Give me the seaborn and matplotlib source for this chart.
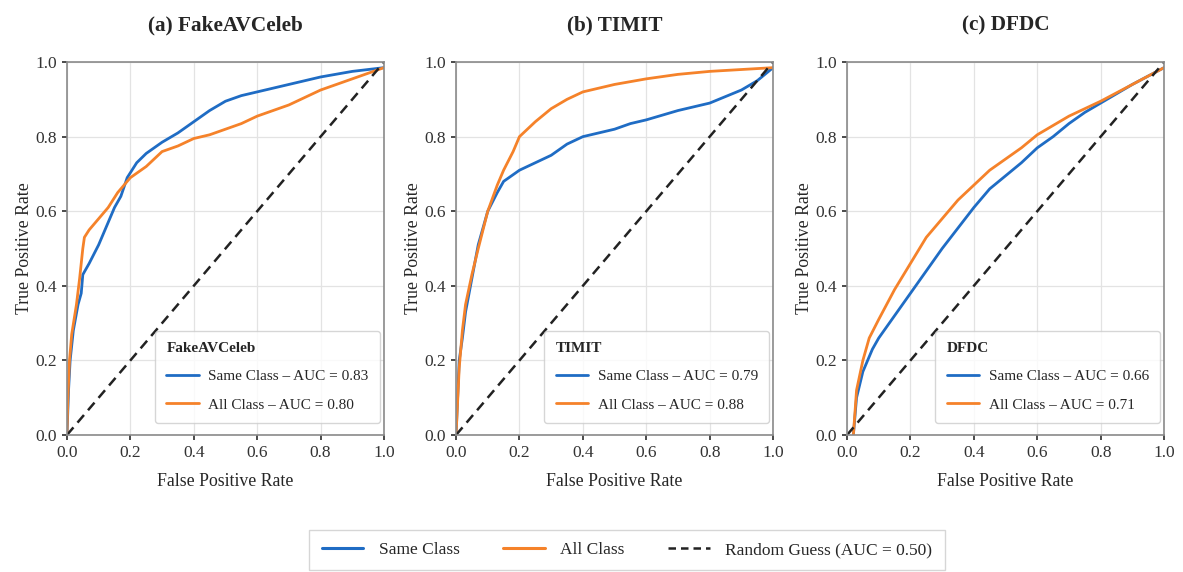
import numpy as np
import pandas as pd
import matplotlib.pyplot as plt
import seaborn as sns
from matplotlib.lines import Line2D

# ROC points (FPR, TPR)
datasets = ["FakeAVCeleb", "TIMIT", "DFDC"]
panel_titles = ["(a) FakeAVCeleb", "(b) TIMIT", "(c) DFDC"]
auc_same = [0.83, 0.79, 0.66]
auc_all = [0.80, 0.88, 0.71]

fav_same_fpr = [0, 0.005, 0.01, 0.02, 0.035, 0.045, 0.05, 0.07, 0.1, 0.13, 0.15, 0.17, 0.19,
                0.22, 0.25, 0.3, 0.35, 0.4, 0.45, 0.5, 0.55, 0.6, 0.7, 0.8, 0.9, 1.0]
fav_same_tpr = [0, 0.12, 0.2, 0.28, 0.35, 0.38, 0.43, 0.46, 0.51, 0.57, 0.61, 0.64, 0.69,
                0.73, 0.755, 0.785, 0.81, 0.84, 0.87, 0.895, 0.91, 0.92, 0.94, 0.96, 0.975, 0.985]
fav_all_fpr = [0, 0.003, 0.008, 0.015, 0.03, 0.04, 0.05, 0.055, 0.07, 0.1, 0.13, 0.16, 0.2,
               0.25, 0.3, 0.35, 0.4, 0.45, 0.5, 0.55, 0.6, 0.7, 0.8, 0.9, 1.0]
fav_all_tpr = [0, 0.1, 0.2, 0.27, 0.35, 0.42, 0.5, 0.53, 0.55, 0.58, 0.61, 0.65, 0.69,
               0.72, 0.76, 0.775, 0.795, 0.805, 0.82, 0.835, 0.855, 0.885, 0.925, 0.955, 0.985]

timit_same_fpr = [0, 0.01, 0.02, 0.03, 0.05, 0.07, 0.1, 0.13, 0.15, 0.2, 0.25, 0.3, 0.35, 0.4,
                  0.45, 0.5, 0.55, 0.6, 0.7, 0.8, 0.9, 0.95, 1.0]
timit_same_tpr = [0, 0.2, 0.26, 0.33, 0.42, 0.51, 0.6, 0.65, 0.68, 0.71, 0.73, 0.75, 0.78, 0.80,
                  0.81, 0.82, 0.835, 0.845, 0.87, 0.89, 0.925, 0.95, 0.985]
timit_all_fpr = [0, 0.01, 0.02, 0.03, 0.05, 0.07, 0.1, 0.13, 0.15, 0.18, 0.2, 0.25, 0.3, 0.35,
                 0.4, 0.45, 0.5, 0.6, 0.7, 0.8, 0.9, 1.0]
timit_all_tpr = [0, 0.18, 0.28, 0.35, 0.43, 0.5, 0.6, 0.67, 0.71, 0.76, 0.80, 0.84, 0.875, 0.9,
                 0.92, 0.93, 0.94, 0.955, 0.967, 0.975, 0.98, 0.985]

dfdc_same_fpr = [0.02, 0.03, 0.05, 0.08, 0.1, 0.15, 0.2, 0.25, 0.3, 0.35, 0.4, 0.45, 0.5, 0.55,
                 0.6, 0.65, 0.7, 0.75, 0.8, 0.9, 1.0]
dfdc_same_tpr = [0.0, 0.1, 0.17, 0.23, 0.26, 0.32, 0.38, 0.44, 0.5, 0.555, 0.61, 0.66, 0.695, 0.73,
                 0.77, 0.8, 0.835, 0.865, 0.89, 0.94, 0.985]
dfdc_all_fpr = [0.02, 0.03, 0.05, 0.07, 0.1, 0.15, 0.2, 0.25, 0.3, 0.35, 0.4, 0.45, 0.5, 0.55,
                0.6, 0.65, 0.7, 0.8, 0.9, 1.0]
dfdc_all_tpr = [0.0, 0.12, 0.2, 0.26, 0.31, 0.39, 0.46, 0.53, 0.58, 0.63, 0.67, 0.71, 0.74, 0.77,
                0.805, 0.83, 0.855, 0.895, 0.94, 0.985]

same_curves = [(fav_same_fpr, fav_same_tpr), (timit_same_fpr, timit_same_tpr), (dfdc_same_fpr, dfdc_same_tpr)]
all_curves = [(fav_all_fpr, fav_all_tpr), (timit_all_fpr, timit_all_tpr), (dfdc_all_fpr, dfdc_all_tpr)]
diag = [0, 1]

blue = "#1f6cc4"
orange = "#f5822a"

sns.set_theme(style="whitegrid")
plt.rcParams["font.family"] = ["Liberation Serif", "DejaVu Serif"]
plt.rcParams.update({
    "xtick.bottom": True, "ytick.left": True,
    "xtick.major.size": 3.5, "ytick.major.size": 3.5,
    "xtick.color": "#333333", "ytick.color": "#333333",
    "axes.edgecolor": "#8a8a8a", "axes.linewidth": 1.2,
    "grid.color": "#e3e3e3", "grid.linewidth": 0.9,
})

fig = plt.figure(figsize=(11.83, 5.72), dpi=100)
lefts = [0.0566, 0.3855, 0.716]
axes = [fig.add_axes([l, 0.2395, 0.268, 0.652]) for l in lefts]

for i, ax in enumerate(axes):
    sx, sy = same_curves[i]
    ax_, ay = all_curves[i]
    sns.lineplot(x=sx, y=sy, ax=ax, color=blue, lw=2.0, sort=False, estimator=None,
                 label=f"Same Class \u2013 AUC = {auc_same[i]:.2f}")
    sns.lineplot(x=ax_, y=ay, ax=ax, color=orange, lw=2.0, sort=False, estimator=None,
                 label=f"All Class \u2013 AUC = {auc_all[i]:.2f}")
    ax.plot(diag, diag, color="#222222", ls="--", lw=1.8, dashes=(4, 2.5))
    ax.set_xlim(0, 1)
    ax.set_ylim(0, 1)
    ax.set_xticks(np.arange(0, 1.01, 0.2))
    ax.set_yticks(np.arange(0, 1.01, 0.2))
    ax.tick_params(labelsize=12.5, pad=3.5)
    ax.set_xlabel("False Positive Rate", fontsize=12.8, labelpad=9)
    ax.set_ylabel("True Positive Rate", fontsize=12.8, labelpad=2)
    ax.set_title(panel_titles[i], fontsize=15.3, fontweight="bold", pad=23)
    leg = ax.legend(title=datasets[i], loc="lower right", fontsize=11, frameon=True,
                    borderpad=0.75, labelspacing=0.95, handlelength=2.1, handletextpad=0.65,
                    borderaxespad=0, bbox_to_anchor=(0.988, 0.032), alignment="left")
    leg.get_title().set_fontweight("bold")
    leg.get_title().set_fontsize(11)
    leg.get_frame().set_edgecolor("#cccccc")

handles = [Line2D([], [], color=blue, lw=2.2),
           Line2D([], [], color=orange, lw=2.2),
           Line2D([], [], color="#222222", lw=1.8, ls="--", dashes=(3, 2))]
fig.legend(handles, ["Same Class", "All Class", "Random Guess (AUC = 0.50)"],
           loc="center", bbox_to_anchor=(0.53, 0.038), ncol=3, fontsize=12.5,
           frameon=True, edgecolor="#cccccc", fancybox=False, columnspacing=2.5,
           handlelength=2.4, handletextpad=0.9, borderpad=0.7, borderaxespad=0)

fig.savefig("out.png", dpi=100, facecolor="white")
